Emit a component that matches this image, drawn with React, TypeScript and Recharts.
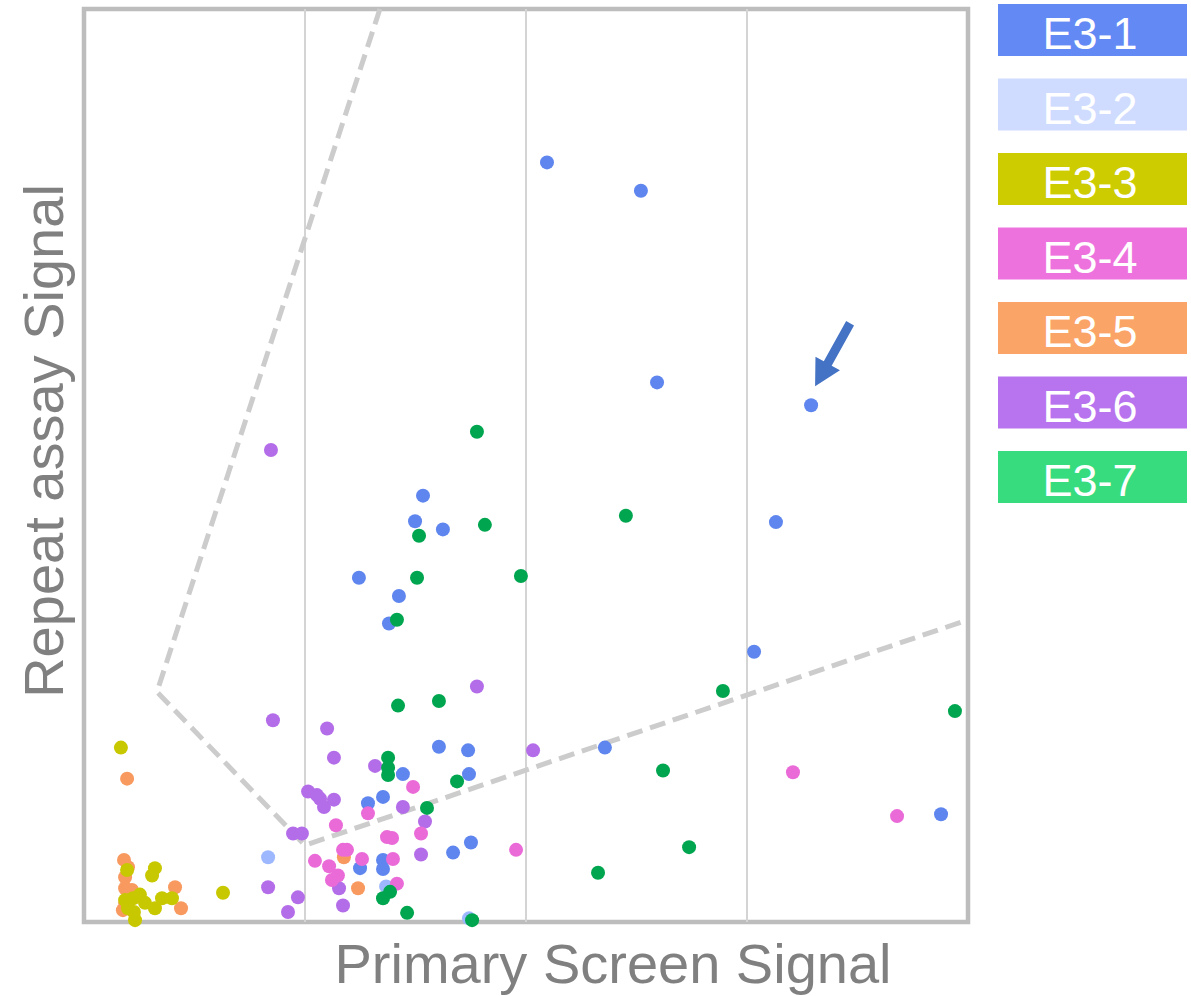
import React from 'react';
import {
  ScatterChart,
  Scatter,
  XAxis,
  YAxis,
  ReferenceLine,
  ReferenceArea,
  ReferenceDot,
} from 'recharts';

// Series names, legend swatch colours and marker colours
const seriesNames = ['E3-1', 'E3-2', 'E3-3', 'E3-4', 'E3-5', 'E3-6', 'E3-7'];
const legendColors = ['#6389f5', '#cfdcff', '#cccc00', '#ee72dd', '#fba467', '#b873ee', '#37dc7f'];
const pointColors = ['#5f86ee', '#9db8ff', '#c8c800', '#ea6bd8', '#f89a60', '#b46de8', '#00a64f'];

// [primary screen signal, repeat assay signal]
const e31: [number, number][] = [
  [2.095, 83.2], [2.52, 80.1], [2.593, 59.1], [3.29, 56.6], [1.534, 46.7],
  [1.498, 43.9], [1.624, 43.0], [3.131, 43.8], [1.244, 37.7], [1.425, 35.7],
  [1.38, 32.7], [3.032, 29.6], [1.606, 19.2], [1.738, 18.8], [2.357, 19.1],
  [1.742, 16.2], [1.443, 16.2], [1.353, 13.7], [1.285, 13.0], [1.249, 5.9],
  [1.353, 6.8], [1.353, 5.8], [1.67, 7.6], [1.751, 8.7], [3.878, 11.8],
];
const e32: [number, number][] = [[0.833, 7.1], [1.367, 3.9], [1.742, 0.4]];
const e33: [number, number][] = [
  [0.167, 19.1], [0.195, 5.7], [0.321, 5.9], [0.308, 5.1], [0.629, 3.2],
  [0.253, 3.0], [0.222, 2.6], [0.353, 2.6], [0.398, 2.6], [0.321, 1.5],
  [0.199, 1.5], [0.226, 1.1], [0.231, 0.2], [0.276, 2.1], [0.186, 2.4],
];
const e34: [number, number][] = [
  [1.14, 10.6], [1.285, 11.9], [1.172, 7.9], [1.19, 7.9], [1.045, 6.7],
  [1.109, 6.1], [1.149, 5.1], [1.122, 4.6], [1.258, 6.9], [1.371, 9.3],
  [1.394, 9.2], [1.398, 6.9], [1.416, 4.2], [1.489, 14.8], [1.525, 9.7],
  [1.955, 7.9], [3.208, 16.4], [3.679, 11.6],
];
const e35: [number, number][] = [
  [0.195, 15.7], [0.181, 6.8], [0.199, 6.0], [0.186, 4.9], [0.186, 3.7],
  [0.217, 3.5], [0.186, 2.1], [0.176, 1.3], [0.412, 3.8], [0.439, 1.5],
  [1.176, 7.1], [1.24, 3.7],
];
const e36: [number, number][] = [
  [0.846, 51.7], [0.855, 22.1], [1.1, 21.2], [1.131, 18.0], [1.317, 17.1],
  [1.778, 25.8], [2.032, 18.8], [1.014, 14.3], [1.054, 13.9], [1.068, 13.5],
  [1.086, 12.6], [1.131, 13.4], [0.946, 9.7], [0.986, 9.7], [0.833, 3.8],
  [0.968, 2.7], [0.923, 1.1], [1.154, 3.7], [1.172, 1.8], [1.443, 12.6],
  [1.543, 11.0], [1.525, 7.4],
];
const e37: [number, number][] = [
  [1.778, 53.7], [2.452, 44.5], [1.814, 43.5], [1.516, 42.3], [1.507, 37.7],
  [1.977, 37.9], [1.416, 33.1], [1.421, 23.7], [1.606, 24.2], [2.891, 25.3],
  [3.941, 23.1], [1.376, 18.0], [1.376, 16.9], [1.376, 16.1], [1.688, 15.4],
  [1.552, 12.5], [2.62, 16.6], [2.738, 8.2], [2.326, 5.4], [1.353, 2.6],
  [1.385, 3.3], [1.462, 1.0], [1.756, 0.2],
];

// Dashed selection boundary
const boundary: [number, number][] = [[1.339, 100], [0.33, 25.2], [1.0, 8.4], [4.0, 33.1]];

// Highlighted hit (arrow annotation)
const highlight: [number, number] = [3.29, 56.6];

const xDomain: [number, number] = [0, 4];
const yDomain: [number, number] = [0, 100];
const xGridTicks = [1, 2, 3];

const seriesData = [e31, e32, e33, e34, e35, e36, e37];
// drawing order (later on top)
const drawOrder = [4, 2, 1, 0, 5, 3, 6];

const toPoints = (arr: [number, number][]) => arr.map(([x, y]) => ({ x, y }));

const FONT = '"Liberation Sans", Arial, sans-serif';

const Dot = (color: string) => (props: any) => (
  <circle cx={props.cx} cy={props.cy} r={7} fill={color} />
);

const Arrow = (props: any) => {
  const { cx, cy } = props;
  const tip = { x: cx + 4, y: cy - 19 };
  const tail = { x: cx + 39, y: cy - 82 };
  const dx = tip.x - tail.x;
  const dy = tip.y - tail.y;
  const len = Math.sqrt(dx * dx + dy * dy);
  const ux = dx / len;
  const uy = dy / len;
  const px = -uy;
  const py = ux;
  const headLen = 26;
  const headHalf = 14;
  const shaftHalf = 4.5;
  const bx = tip.x - ux * headLen;
  const by = tip.y - uy * headLen;
  const pts = [
    [tail.x + px * shaftHalf, tail.y + py * shaftHalf],
    [bx + px * shaftHalf, by + py * shaftHalf],
    [bx + px * headHalf, by + py * headHalf],
    [tip.x, tip.y],
    [bx - px * headHalf, by - py * headHalf],
    [bx - px * shaftHalf, by - py * shaftHalf],
    [tail.x - px * shaftHalf, tail.y - py * shaftHalf],
  ]
    .map((p) => p.join(','))
    .join(' ');
  return <polygon points={pts} fill="#4472c4" />;
};

export default function App() {
  return (
    <div style={{ position: 'absolute', left: 0, top: 0, width: 1191, height: 996, background: '#fff' }}>
      <ScatterChart
        width={1191}
        height={996}
        margin={{ top: 9, right: 223, bottom: 74, left: 84 }}
      >
        <XAxis
          type="number"
          dataKey="x"
          domain={xDomain}
          ticks={xGridTicks}
          tick={false}
          axisLine={false}
          tickLine={false}
          height={0}
        />
        <YAxis
          type="number"
          dataKey="y"
          domain={yDomain}
          tick={false}
          axisLine={false}
          tickLine={false}
          width={0}
        />
        {xGridTicks.map((t) => (
          <ReferenceLine key={t} x={t} stroke="#d4d4d4" strokeWidth={2} />
        ))}
        <Scatter
          data={toPoints(boundary)}
          line={{ stroke: '#cccccc', strokeWidth: 5, strokeDasharray: '16 8' }}
          shape={() => <g />}
          isAnimationActive={false}
        />
        {drawOrder.map((i) => (
          <Scatter
            key={seriesNames[i]}
            name={seriesNames[i]}
            data={toPoints(seriesData[i])}
            fill={pointColors[i]}
            shape={Dot(pointColors[i])}
            isAnimationActive={false}
          />
        ))}
        <ReferenceArea
          x1={xDomain[0]}
          x2={xDomain[1]}
          y1={yDomain[0]}
          y2={yDomain[1]}
          fill="none"
          fillOpacity={0}
          stroke="#bdbdbd"
          strokeWidth={4.5}
        />
        <ReferenceDot x={highlight[0]} y={highlight[1]} shape={Arrow} />
      </ScatterChart>
      <svg
        width={1191}
        height={996}
        style={{ position: 'absolute', left: 0, top: 0, pointerEvents: 'none' }}
      >
        <text
          x={613}
          y={983}
          textAnchor="middle"
          fontFamily={FONT}
          fontSize={56}
          fill="#808080"
        >
          Primary Screen Signal
        </text>
        <text
          transform="translate(63,441) rotate(-90)"
          textAnchor="middle"
          fontFamily={FONT}
          fontSize={56}
          fill="#808080"
        >
          Repeat assay Signal
        </text>
        {seriesNames.map((name, i) => {
          const top = 4 + i * 74.5;
          return (
            <g key={name}>
              <rect x={998} y={top} width={189} height={52} fill={legendColors[i]} />
              <text
                x={1090}
                y={top + 45}
                textAnchor="middle"
                fontFamily={FONT}
                fontSize={45}
                fill="#ffffff"
              >
                {name}
              </text>
            </g>
          );
        })}
      </svg>
    </div>
  );
}
